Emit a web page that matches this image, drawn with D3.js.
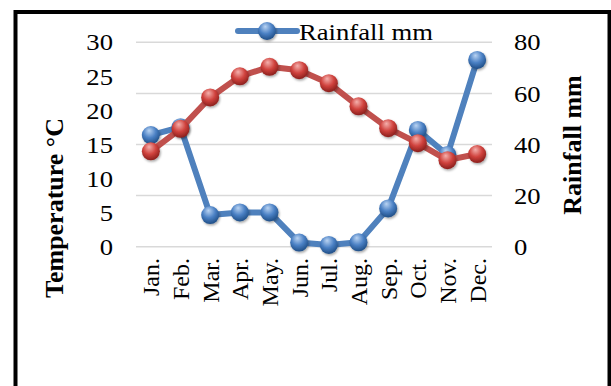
<!DOCTYPE html>
<html>
<head>
<meta charset="utf-8">
<script src="https://cdn.jsdelivr.net/npm/d3@7"></script>
<style>
  html, body { margin: 0; padding: 0; background: #fff; }
  svg { display: block; }
  text { font-family: "Liberation Serif", "Times New Roman", serif; fill: #000; }
</style>
</head>
<body>
<svg id="chart" width="611" height="386"></svg>
<script>
// Monthly climate data
const months = ["Jan.", "Feb.", "Mar.", "Apr.", "May.", "Jun.", "Jul.", "Aug.", "Sep.", "Oct.", "Nov.", "Dec."];
const temperature = [14.0, 17.3, 21.9, 25.0, 26.4, 25.9, 24.0, 20.6, 17.4, 15.2, 12.7, 13.6];
const rainfall = [43.7, 46.8, 12.4, 13.4, 13.4, 1.6, 0.7, 1.7, 15.0, 45.7, 35.9, 73.1];
const tempTicks = [0, 5, 10, 15, 20, 25, 30];
const rainTicks = [0, 20, 40, 60, 80];

const svg = d3.select("#chart");
const stretch = "scale(1.11,1)"; // slightly wide typeface look

// Sphere-style marker fills
const defs = svg.append("defs");
function sphere(id, light, mid, dark) {
  const g = defs.append("radialGradient").attr("id", id)
    .attr("cx", "45%").attr("cy", "35%").attr("r", "65%").attr("fx", "40%").attr("fy", "25%");
  g.append("stop").attr("offset", "0%").attr("stop-color", light);
  g.append("stop").attr("offset", "55%").attr("stop-color", mid);
  g.append("stop").attr("offset", "100%").attr("stop-color", dark);
}
sphere("blueBall", "#b9d3f2", "#4a80c4", "#1f4e86");
sphere("redBall", "#f4b0ad", "#d0423d", "#8a1f1c");
const sh = defs.append("filter").attr("id", "shadow").attr("x", "-50%").attr("y", "-50%").attr("width", "200%").attr("height", "200%");
sh.append("feDropShadow").attr("dx", 1).attr("dy", 1.5).attr("stdDeviation", 1.2).attr("flood-color", "#000").attr("flood-opacity", 0.35);

// Frame
svg.append("rect").attr("x", 15.5).attr("y", 12).attr("width", 594).attr("height", 400)
  .attr("fill", "none").attr("stroke", "#000").attr("stroke-width", 4);

// Scales
const x = d3.scalePoint().domain(months).range([136, 492]).padding(0.5);
const yT = d3.scaleLinear().domain([0, 30]).range([246.7, 42.3]);
const yR = d3.scaleLinear().domain([0, 80]).range([246.7, 42.3]);

// Gridlines (secondary axis)
svg.append("g").selectAll("line").data(rainTicks).join("line")
  .attr("x1", 136).attr("x2", 492)
  .attr("y1", d => yR(d)).attr("y2", d => yR(d))
  .attr("stroke", "#d9d9d9").attr("stroke-width", 1.5);

// Left axis (temperature)
const leftAxis = svg.append("g").attr("transform", "translate(113,0)")
  .call(d3.axisLeft(yT).tickValues(tempTicks).tickSize(0).tickPadding(0));
leftAxis.select(".domain").remove();
leftAxis.selectAll("text").attr("font-size", 24).attr("font-family", "Liberation Serif")
  .attr("fill", "#000").attr("transform", stretch);

// Right axis (rainfall)
const rightAxis = svg.append("g").attr("transform", "translate(514,0)")
  .call(d3.axisRight(yR).tickValues(rainTicks).tickSize(0).tickPadding(0));
rightAxis.select(".domain").remove();
rightAxis.selectAll("text").attr("font-size", 24).attr("font-family", "Liberation Serif")
  .attr("fill", "#000").attr("transform", stretch);

// Month labels, rotated
const bottomAxis = svg.append("g").attr("transform", "translate(0,258)")
  .call(d3.axisBottom(x).tickSize(0).tickPadding(0));
bottomAxis.select(".domain").remove();
bottomAxis.selectAll("text")
  .attr("font-size", 24).attr("font-family", "Liberation Serif").attr("fill", "#000")
  .attr("text-anchor", "end").attr("dy", null).attr("y", 0).attr("x", 0)
  .attr("transform", "rotate(-90)").attr("dominant-baseline", "central");

// Axis titles
svg.append("text").attr("transform", "translate(63,208) rotate(-90)")
  .attr("text-anchor", "middle").attr("font-size", 26).attr("font-weight", "bold")
  .text("Temperature °C");
svg.append("text").attr("transform", "translate(581,145) rotate(-90)")
  .attr("text-anchor", "middle").attr("font-size", 26).attr("font-weight", "bold")
  .text("Rainfall mm");

// Series
const lineR = d3.line().x((d, i) => x(months[i])).y(d => yR(d));
const lineT = d3.line().x((d, i) => x(months[i])).y(d => yT(d));

svg.append("path").datum(rainfall).attr("d", lineR)
  .attr("fill", "none").attr("stroke", "#4f81bd").attr("stroke-width", 6).attr("stroke-linejoin", "round");
svg.append("g").selectAll("circle").data(rainfall).join("circle")
  .attr("cx", (d, i) => x(months[i])).attr("cy", d => yR(d)).attr("r", 9)
  .attr("fill", "url(#blueBall)").attr("filter", "url(#shadow)");

svg.append("path").datum(temperature).attr("d", lineT)
  .attr("fill", "none").attr("stroke", "#c0504d").attr("stroke-width", 6).attr("stroke-linejoin", "round");
svg.append("g").selectAll("circle").data(temperature).join("circle")
  .attr("cx", (d, i) => x(months[i])).attr("cy", d => yT(d)).attr("r", 9)
  .attr("fill", "url(#redBall)").attr("filter", "url(#shadow)");

// Legend
const lg = svg.append("g");
lg.append("line").attr("x1", 238).attr("x2", 297).attr("y1", 31).attr("y2", 31)
  .attr("stroke", "#4f81bd").attr("stroke-width", 6).attr("stroke-linecap", "round");
lg.append("circle").attr("cx", 267).attr("cy", 31).attr("r", 9)
  .attr("fill", "url(#blueBall)").attr("filter", "url(#shadow)");
lg.append("text").attr("transform", "translate(299,39.5) " + stretch)
  .attr("font-size", 24).text("Rainfall mm");
</script>
</body>
</html>
